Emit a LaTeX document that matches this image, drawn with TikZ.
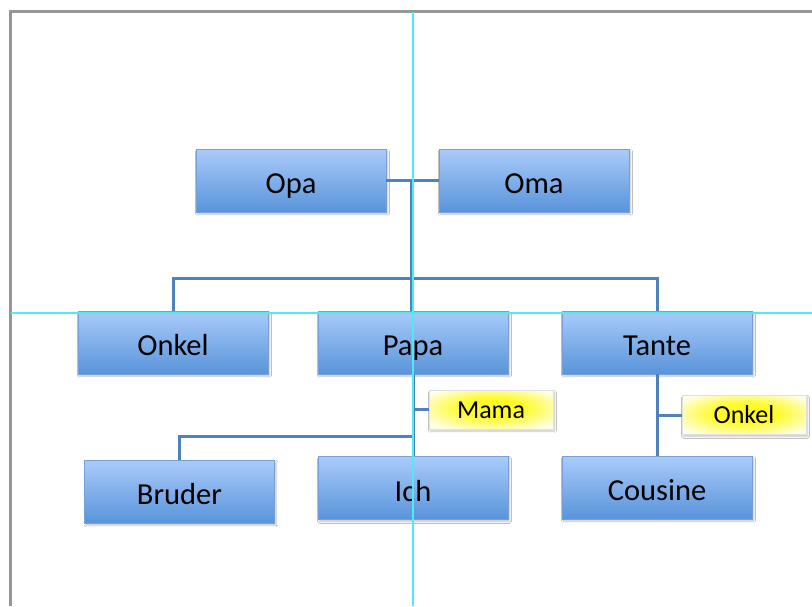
\documentclass[tikz,border=0pt]{standalone}
\usepackage{fontspec}
\setmainfont{Carlito}
\usetikzlibrary{shadows.blur}
\definecolor{boxtop}{RGB}{170,203,250}
\definecolor{boxbot}{RGB}{88,148,218}
\definecolor{boxline}{RGB}{120,160,214}
\definecolor{conn}{RGB}{79,129,189}
\definecolor{guide}{RGB}{80,235,240}
\definecolor{frame}{RGB}{150,150,150}
\definecolor{yel}{RGB}{255,250,40}
\pgfdeclareradialshading{yelshade}{\pgfpoint{1bp}{3bp}}{color(0bp)=(yel); color(12bp)=(yel); color(22bp)=(yel!55!white); color(31bp)=(yel!12!white); color(50bp)=(white)}
\tikzset{
  person/.style={rectangle, draw=boxline, line width=0.8pt, top color=boxtop, bottom color=boxbot,
    minimum width=190pt, minimum height=63pt, inner sep=0pt, text height=26pt, text depth=0pt,
    font=\fontsize{30.5}{36}\selectfont,
    blur shadow={shadow xshift=1.5pt, shadow yshift=-2pt, shadow blur steps=6, shadow opacity=25}},
  partner/.style={rectangle, draw=black!12, line width=0.6pt, shading=yelshade,
    minimum width=124pt, minimum height=39pt, inner sep=0pt, text height=17pt, text depth=0pt,
    font=\fontsize{26}{31}\selectfont,
    blur shadow={shadow xshift=1.5pt, shadow yshift=-2pt, shadow blur steps=5, shadow opacity=22}},
  link/.style={draw=conn, line width=3pt},
  guideline/.style={draw=guide, line width=1.2pt},
}
\begin{document}
\begin{tikzpicture}[x=1pt,y=-1pt]
\useasboundingbox (0,0) rectangle (812,606);
\fill[white] (0,0) rectangle (812,606);
% frame
\coordinate (fbl) at (10,606);
\coordinate (ftl) at (10,11);
\coordinate (ftr) at (812,11);
\draw[frame, line width=3pt] (fbl) -- (ftl) -- (ftr);
% nodes
\node[person] (opa) at (291,180.5) {Opa};
\node[person] (oma) at (534,180.5) {Oma};
\node[person] (onkel) at (173,342.5) {Onkel};
\node[person] (papa) at (413,342.5) {Papa};
\node[person] (tante) at (657,342.5) {Tante};
\node[person] (bruder) at (179.5,491.5) {Bruder};
\node[person] (ich) at (413,488) {Ich};
\node[person] (cousine) at (657,487.5) {Cousine};
\node[partner] (mama) at (491,409.5) {Mama};
\node[partner] (onkelb) at (744,415) {Onkel};
% connectors
\coordinate (t1) at (411,181);
\coordinate (bar) at (411,278);
\coordinate (sib) at (413,436);
\draw[link] (opa.east) -- (oma.west);
\draw[link] (t1) -- (t1 |- papa.north);
\draw[link] (onkel.north) |- (bar) -| (tante.north);
\draw[link] (papa.south) -- (ich.north);
\draw[link] (mama.west) -- (mama.west -| papa.south);
\draw[link] (bruder.north) |- (sib);
\draw[link] (tante.south) -- (cousine.north);
\draw[link] (onkelb.west) -- (onkelb.west -| tante.south);
% guides
\coordinate (gv1) at (413,12);
\coordinate (gv2) at (413,606);
\coordinate (gh1) at (11,313);
\coordinate (gh2) at (812,313);
\draw[guideline] (gv1) -- (gv2);
\draw[guideline] (gh1) -- (gh2);
\end{tikzpicture}
\end{document}
